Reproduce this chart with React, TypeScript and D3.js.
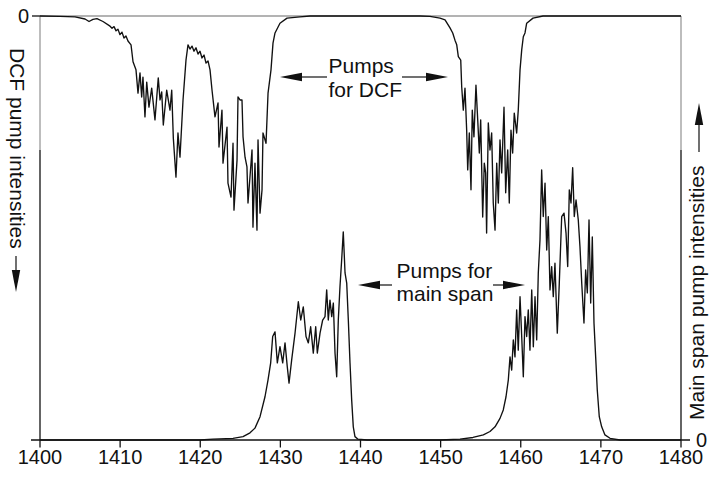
import React from "react";
import * as d3 from "d3";

// Wavelength axis ticks (nm)
const xTicks = [1400, 1410, 1420, 1430, 1440, 1450, 1460, 1470, 1480];

// DCF pump intensities (relative, 0 = none, plotted downward from top)
const dcfWavelength = [
  1400, 1402.5, 1404.37, 1405.62, 1406.12, 1406.61, 1407.11, 1407.86, 1408.74, 1408.99,
  1409.24, 1409.49, 1409.73, 1409.98, 1410.23, 1410.48, 1410.73, 1410.98, 1411.36, 1411.61,
  1411.98, 1412.23, 1412.48, 1412.69, 1412.85, 1413.1, 1413.32, 1413.6, 1413.94, 1414.35,
  1414.76, 1414.98, 1415.19, 1415.39, 1415.81, 1416.22, 1416.44, 1416.64, 1416.97, 1417.22,
  1417.47, 1417.85, 1418.22, 1418.47, 1418.72, 1418.97, 1419.22, 1419.47, 1419.72, 1419.97,
  1420.22, 1420.47, 1420.72, 1420.97, 1421.22, 1421.47, 1421.84, 1422.22, 1422.34, 1422.71,
  1422.84, 1423.34, 1423.46, 1423.84, 1424.09, 1424.21, 1424.59, 1424.71, 1424.96, 1425.21,
  1425.34, 1425.59, 1425.83, 1425.96, 1426.46, 1426.58, 1426.83, 1427.08, 1427.21, 1427.46,
  1427.71, 1427.83, 1428.21, 1428.46, 1428.83, 1429.08, 1429.33, 1429.95, 1430.83, 1432.45,
  1433.7, 1447.43, 1448.67, 1449.92, 1450.55, 1451.17, 1451.51, 1451.79, 1452.01, 1452.21,
  1452.51, 1452.63, 1452.83, 1453.04, 1453.25, 1453.38, 1453.58, 1453.79, 1453.95, 1454.16,
  1454.41, 1454.63, 1454.83, 1455.0, 1455.25, 1455.45, 1455.62, 1455.74, 1455.95, 1456.16,
  1456.37, 1456.57, 1456.79, 1457.0, 1457.2, 1457.41, 1457.62, 1457.91, 1458.12, 1458.37,
  1458.57, 1458.78, 1458.99, 1459.19, 1459.49, 1459.69, 1459.91, 1460.12, 1460.32, 1460.53,
  1460.74, 1461.53, 1462.78, 1480,
];
const dcfIntensity = [
  0, 0.001, 0.002, 0.007, 0.013, 0.008, 0.006, 0.013, 0.024, 0.029,
  0.025, 0.035, 0.031, 0.044, 0.038, 0.052, 0.047, 0.059, 0.068, 0.108,
  0.127, 0.182, 0.134, 0.191, 0.144, 0.238, 0.156, 0.215, 0.17, 0.245,
  0.146, 0.198, 0.179, 0.257, 0.175, 0.222, 0.175, 0.288, 0.38, 0.276,
  0.333, 0.198, 0.104, 0.068, 0.078, 0.071, 0.083, 0.075, 0.09, 0.083,
  0.099, 0.092, 0.111, 0.106, 0.127, 0.175, 0.238, 0.205, 0.309, 0.222,
  0.347, 0.262, 0.394, 0.427, 0.3, 0.458, 0.34, 0.191, 0.198, 0.198,
  0.285, 0.333, 0.356, 0.441, 0.316, 0.498, 0.347, 0.505, 0.292, 0.465,
  0.41, 0.276, 0.3, 0.182, 0.127, 0.064, 0.04, 0.017, 0.005, 0.002,
  0, 0, 0.001, 0.005, 0.009, 0.028, 0.04, 0.057, 0.068, 0.096,
  0.104, 0.167, 0.222, 0.17, 0.269, 0.363, 0.276, 0.41, 0.222, 0.285,
  0.163, 0.245, 0.323, 0.245, 0.474, 0.347, 0.37, 0.512, 0.252, 0.316,
  0.276, 0.441, 0.505, 0.347, 0.441, 0.292, 0.37, 0.215, 0.417, 0.316,
  0.441, 0.269, 0.323, 0.229, 0.276, 0.222, 0.127, 0.08, 0.049, 0.04,
  0.017, 0.005, 0, 0,
];

// Main span pump intensities (relative, plotted upward from bottom)
const mainWavelength = [
  1400, 1419.97, 1421.59, 1424.09, 1425.34, 1426.21, 1426.83, 1427.46, 1428.08, 1428.46,
  1428.79, 1429.04, 1429.33, 1429.62, 1429.95, 1430.29, 1430.58, 1430.86, 1431.08, 1431.41,
  1431.83, 1432.24, 1432.54, 1432.86, 1433.2, 1433.49, 1433.78, 1434.11, 1434.41, 1434.61,
  1434.95, 1435.28, 1435.57, 1435.78, 1435.98, 1436.19, 1436.41, 1436.61, 1436.82, 1437.03,
  1437.23, 1437.44, 1437.65, 1437.85, 1438.07, 1438.28, 1438.48, 1438.69, 1438.9, 1439.1,
  1439.31, 1439.69, 1440.81, 1449.92, 1452.42, 1454.04, 1455.33, 1456.16, 1456.79, 1457.41,
  1457.82, 1458.16, 1458.45, 1458.66, 1458.87, 1459.07, 1459.28, 1459.49, 1459.69, 1459.91,
  1460.12, 1460.32, 1460.53, 1460.74, 1460.94, 1461.15, 1461.37, 1461.57, 1461.78, 1461.99,
  1462.19, 1462.4, 1462.61, 1462.81, 1463.03, 1463.24, 1463.44, 1463.65, 1463.86, 1464.06,
  1464.27, 1464.56, 1464.81, 1465.11, 1465.4, 1465.65, 1465.86, 1466.06, 1466.27, 1466.48,
  1466.68, 1466.9, 1467.18, 1467.39, 1467.61, 1467.89, 1468.1, 1468.31, 1468.52, 1468.73,
  1468.93, 1469.14, 1469.35, 1469.55, 1469.8, 1470.1, 1470.51, 1471.14, 1472.39, 1480,
];
const mainIntensity = [
  0, 0, 0.002, 0.004, 0.008, 0.017, 0.028, 0.055, 0.102, 0.142,
  0.182, 0.244, 0.255, 0.182, 0.22, 0.182, 0.229, 0.173, 0.134, 0.189,
  0.252, 0.326, 0.283, 0.314, 0.244, 0.229, 0.267, 0.205, 0.267, 0.205,
  0.252, 0.283, 0.291, 0.354, 0.283, 0.33, 0.291, 0.323, 0.205, 0.149,
  0.283, 0.362, 0.425, 0.491, 0.394, 0.37, 0.283, 0.182, 0.094, 0.031,
  0.008, 0.002, 0, 0, 0.002, 0.006, 0.012, 0.02, 0.031, 0.051,
  0.071, 0.102, 0.142, 0.196, 0.165, 0.236, 0.196, 0.307, 0.212, 0.338,
  0.244, 0.149, 0.291, 0.244, 0.307, 0.212, 0.354, 0.22, 0.338, 0.236,
  0.394, 0.472, 0.637, 0.527, 0.606, 0.448, 0.527, 0.354, 0.409, 0.338,
  0.417, 0.252, 0.37, 0.527, 0.535, 0.488, 0.409, 0.59, 0.559, 0.642,
  0.527, 0.566, 0.519, 0.456, 0.37, 0.276, 0.401, 0.347, 0.519, 0.323,
  0.479, 0.276, 0.196, 0.118, 0.055, 0.031, 0.012, 0.004, 0, 0,
];

const leftLabel = "DCF pump intensities";
const rightLabel = "Main span pump intensities";
const dcfNote = ["Pumps", "for DCF"];
const mainNote = ["Pumps for", "main span"];

const W = 710;
const H = 481;
const FONT = "'Liberation Sans', Arial, Helvetica, sans-serif";

function Arrow({ x1, y1, x2, y2 }: { x1: number; y1: number; x2: number; y2: number }) {
  const len = Math.hypot(x2 - x1, y2 - y1);
  const ux = (x2 - x1) / len;
  const uy = (y2 - y1) / len;
  const hl = 22;
  const hw = 4.2;
  const bx = x2 - ux * hl;
  const by = y2 - uy * hl;
  const px = -uy;
  const py = ux;
  const pts = `${x2},${y2} ${bx + px * hw},${by + py * hw} ${bx - px * hw},${by - py * hw}`;
  return (
    <g>
      <line x1={x1} y1={y1} x2={bx} y2={by} stroke="#111" strokeWidth={1.2} />
      <polygon points={pts} fill="#111" />
    </g>
  );
}

export default function App() {
  const x = d3.scaleLinear().domain([1400, 1480]).range([40, 681]);
  const yDcf = d3.scaleLinear().domain([0, 1]).range([16, 440]);
  const yMain = d3.scaleLinear().domain([0, 1]).range([440, 16]);

  const dcfData = dcfWavelength.map((w, i) => [w, dcfIntensity[i]] as [number, number]);
  const mainData = mainWavelength.map((w, i) => [w, mainIntensity[i]] as [number, number]);

  const dcfLine = d3
    .line<[number, number]>()
    .x((d) => x(d[0]))
    .y((d) => yDcf(d[1]))(dcfData) as string;
  const mainLine = d3
    .line<[number, number]>()
    .x((d) => x(d[0]))
    .y((d) => yMain(d[1]))(mainData) as string;

  const x0 = x(1400);
  const x1 = x(1480);
  const yTop = yDcf(0);
  const yBot = yMain(0);
  const ySplit = 150;

  return (
    <svg
      width={W}
      height={H}
      style={{ position: "absolute", left: 0, top: 0, background: "#fff" }}
      fontFamily={FONT}
    >
      <rect x={0} y={0} width={W} height={H} fill="#fff" />
      <line x1={x0} y1={yTop} x2={x1} y2={yTop} stroke="#9a9a9a" strokeWidth={1.3} />
      <line x1={x0} y1={yTop} x2={x0} y2={ySplit} stroke="#9a9a9a" strokeWidth={1.3} />
      <line x1={x1} y1={yTop} x2={x1} y2={ySplit} stroke="#9a9a9a" strokeWidth={1.3} />
      <line x1={x0} y1={ySplit} x2={x0} y2={yBot} stroke="#111" strokeWidth={1.3} />
      <line x1={x1} y1={ySplit} x2={x1} y2={yBot} stroke="#111" strokeWidth={1.3} />
      <line x1={x0 - 9} y1={yBot} x2={x1 + 9} y2={yBot} stroke="#111" strokeWidth={1.3} />
      <line x1={x0 - 8} y1={yTop} x2={x0} y2={yTop} stroke="#111" strokeWidth={1.3} />
      <text x={29} y={yTop} textAnchor="end" dominantBaseline="central" fontSize={20} fill="#111">
        0
      </text>
      <text x={696} y={yBot} textAnchor="start" dominantBaseline="central" fontSize={20} fill="#111">
        0
      </text>

      {xTicks.map((t) => (
        <g key={t}>
          <line x1={x(t)} y1={yBot} x2={x(t)} y2={yBot + 7.5} stroke="#111" strokeWidth={1.3} />
          <text x={x(t)} y={464} textAnchor="middle" fontSize={20} fill="#111">
            {t}
          </text>
        </g>
      ))}

      <path d={dcfLine} fill="none" stroke="#111" strokeWidth={1.35} strokeLinejoin="round" />
      <path d={mainLine} fill="none" stroke="#111" strokeWidth={1.35} strokeLinejoin="round" />

      <text transform={`translate(10,48) rotate(90)`} fontSize={21} fill="#111" textAnchor="start">
        {leftLabel}
      </text>
      <Arrow x1={16} y1={256} x2={16} y2={292} />
      <text transform={`translate(704,420) rotate(-90)`} fontSize={21} fill="#111" textAnchor="start">
        {rightLabel}
      </text>
      <Arrow x1={699} y1={152} x2={699} y2={103} />

      <text x={328.5} y={73} fontSize={21} fill="#111">
        {dcfNote[0]}
      </text>
      <text x={328.5} y={97} fontSize={21} fill="#111">
        {dcfNote[1]}
      </text>
      <Arrow x1={327} y1={77} x2={280} y2={77} />
      <Arrow x1={402} y1={77} x2={448} y2={77} />

      <text x={396.5} y={278} fontSize={21} fill="#111">
        {mainNote[0]}
      </text>
      <text x={396.5} y={301} fontSize={21} fill="#111">
        {mainNote[1]}
      </text>
      <Arrow x1={392} y1={285} x2={358} y2={285} />
      <Arrow x1={493} y1={285} x2={525} y2={285} />
    </svg>
  );
}
